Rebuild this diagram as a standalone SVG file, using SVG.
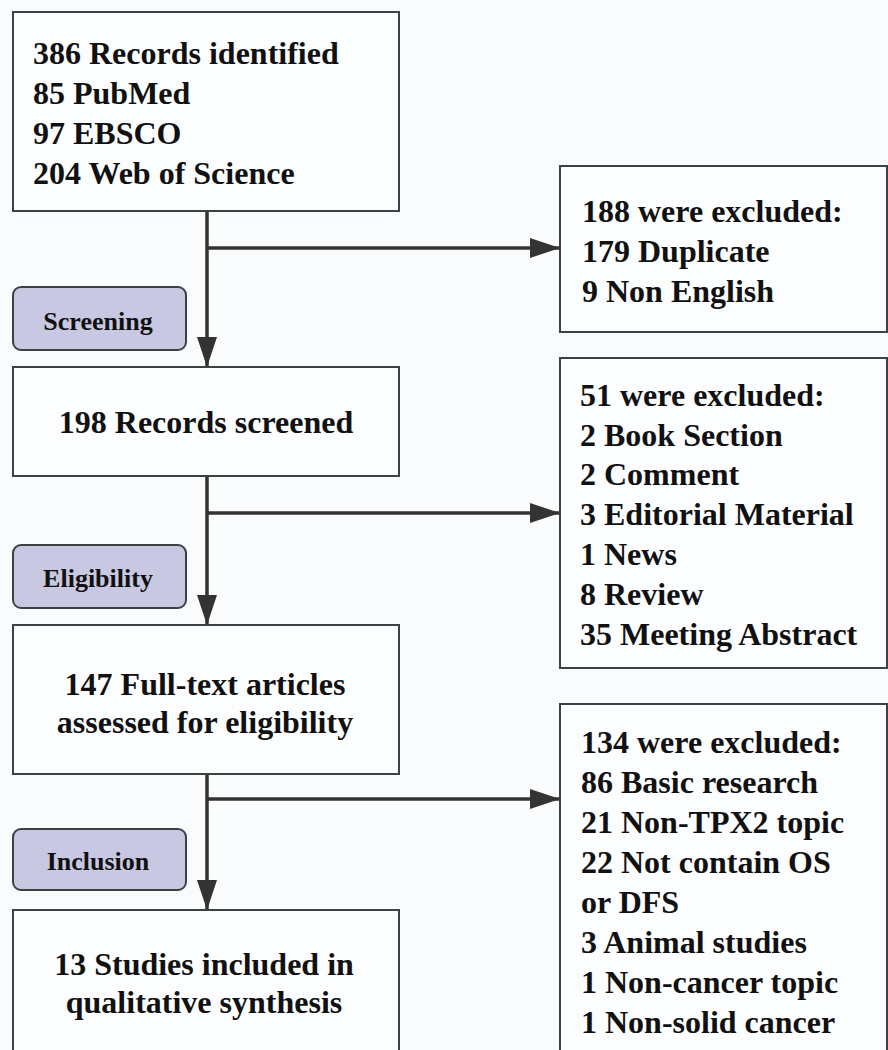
<svg xmlns="http://www.w3.org/2000/svg" width="888" height="1050" viewBox="0 0 888 1050">
<style>
.box{fill:#fcfdfe;stroke:#3b4242;stroke-width:2}
.lab{fill:#c9c8e2;stroke:#3b4242;stroke-width:2}
.t{font-family:"Liberation Serif","Times New Roman",serif;font-weight:bold;font-size:32px;fill:#111}
.l{font-family:"Liberation Serif","Times New Roman",serif;font-weight:bold;font-size:26px;fill:#111;text-anchor:middle}
.c{text-anchor:middle}
.ln{stroke:#333;stroke-width:3.5;fill:none}
</style>
<defs>
<marker id="ah" markerUnits="userSpaceOnUse" markerWidth="30" markerHeight="20" refX="30" refY="10" orient="auto" viewBox="0 0 30 20">
<path d="M0,0 L30,10 L0,20 Z" fill="#333"/>
</marker>
</defs>
<rect width="888" height="1050" fill="#fafbfd"/>
<g id="connectors">
<line class="ln" x1="207" y1="211" x2="207" y2="367" marker-end="url(#ah)"/>
<line class="ln" x1="207" y1="248" x2="560" y2="248" marker-end="url(#ah)"/>
<line class="ln" x1="207" y1="476" x2="207" y2="625" marker-end="url(#ah)"/>
<line class="ln" x1="207" y1="513" x2="560" y2="513" marker-end="url(#ah)"/>
<line class="ln" x1="207" y1="774" x2="207" y2="910" marker-end="url(#ah)"/>
<line class="ln" x1="207" y1="799" x2="560" y2="799" marker-end="url(#ah)"/>
</g>
<g id="identified">
<rect class="box" x="13" y="12" width="386" height="199"/>
<text class="t" x="33" y="64">386 Records identified</text>
<text class="t" x="33" y="104">85 PubMed</text>
<text class="t" x="33" y="144">97 EBSCO</text>
<text class="t" x="33" y="184">204 Web of Science</text>
</g>
<g id="excluded1">
<rect class="box" x="560" y="166" width="327" height="166"/>
<text class="t" x="582" y="222">188 were excluded:</text>
<text class="t" x="582" y="262">179 Duplicate</text>
<text class="t" x="582" y="302">9 Non English</text>
</g>
<g id="screening">
<rect class="lab" x="13" y="287" width="173" height="63" rx="8"/>
<text class="l" x="98" y="330">Screening</text>
</g>
<g id="screened">
<rect class="box" x="13" y="367" width="386" height="109"/>
<text class="t c" x="206" y="433">198 Records screened</text>
</g>
<g id="excluded2">
<rect class="box" x="560" y="358" width="327" height="310"/>
<text class="t" x="580" y="406">51 were excluded:</text>
<text class="t" x="580" y="446">2 Book Section</text>
<text class="t" x="580" y="485">2 Comment</text>
<text class="t" x="580" y="525">3 Editorial Material</text>
<text class="t" x="580" y="565">1 News</text>
<text class="t" x="580" y="605">8 Review</text>
<text class="t" x="580" y="645">35 Meeting Abstract</text>
</g>
<g id="eligibility">
<rect class="lab" x="13" y="545" width="173" height="63" rx="8"/>
<text class="l" x="98" y="587">Eligibility</text>
</g>
<g id="fulltext">
<rect class="box" x="13" y="625" width="386" height="149"/>
<text class="t c" x="205" y="695">147 Full-text articles</text>
<text class="t c" x="205" y="733">assessed for eligibility</text>
</g>
<g id="excluded3">
<rect class="box" x="560" y="704" width="327" height="360"/>
<text class="t" x="581" y="753">134 were excluded:</text>
<text class="t" x="581" y="793">86 Basic research</text>
<text class="t" x="581" y="833">21 Non-TPX2 topic</text>
<text class="t" x="581" y="873">22 Not contain OS</text>
<text class="t" x="581" y="913">or DFS</text>
<text class="t" x="581" y="953">3 Animal studies</text>
<text class="t" x="581" y="993">1 Non-cancer topic</text>
<text class="t" x="581" y="1033">1 Non-solid cancer</text>
</g>
<g id="inclusion">
<rect class="lab" x="13" y="829" width="173" height="61" rx="8"/>
<text class="l" x="98" y="870">Inclusion</text>
</g>
<g id="included">
<rect class="box" x="13" y="910" width="386" height="160"/>
<text class="t c" x="204" y="975">13 Studies included in</text>
<text class="t c" x="204" y="1013">qualitative synthesis</text>
</g>
</svg>
